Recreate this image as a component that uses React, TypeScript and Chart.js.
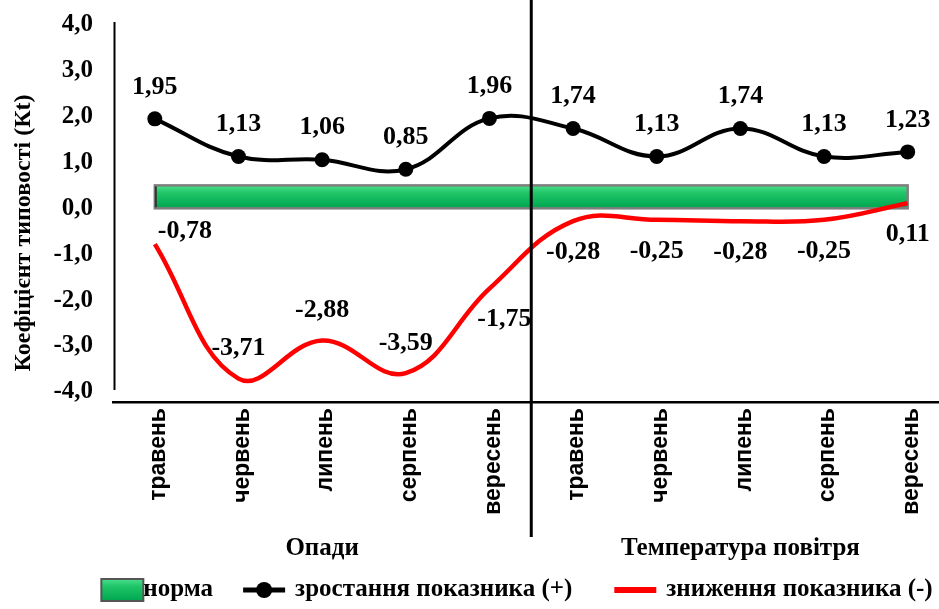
import React, { useEffect, useRef } from 'react';
import { Chart, registerables } from 'chart.js';

Chart.register(...registerables);

const categories = ['травень', 'червень', 'липень', 'серпень', 'вересень', 'травень', 'червень', 'липень', 'серпень', 'вересень'];
const groupLabels = ['Опади', 'Температура повітря'];
const groupSizes = [5, 5];
const normValues = [0.5, 0.5, 0.5, 0.5, 0.5, 0.5, 0.5, 0.5, 0.5, 0.5];
const increaseValues = [1.95, 1.13, 1.06, 0.85, 1.96, 1.74, 1.13, 1.74, 1.13, 1.23];
const decreaseValues = [-0.78, -3.71, -2.88, -3.59, -1.75, -0.28, -0.25, -0.28, -0.25, 0.11];
const yTickValues = [-4, -3, -2, -1, 0, 1, 2, 3, 4];
const seriesNames = ['норма', 'зростання показника (+)', 'зниження показника (-)'];
const yTitle = 'Коефіцієнт типовості (Кt)';
const decreaseLabelSide = ['right', 'above', 'above', 'above', 'belowRight', 'below', 'below', 'below', 'below', 'below'];

const SERIF = '"Liberation Serif", "Times New Roman", serif';
const SANS = '"Liberation Sans", Arial, sans-serif';

const fmt = (v: number, d: number) => v.toFixed(d).replace('.', ',');

function makeGreen(ctx: CanvasRenderingContext2D, top: number, bottom: number) {
  const g = ctx.createLinearGradient(0, top, 0, bottom);
  g.addColorStop(0, '#49e08c');
  g.addColorStop(0.35, '#1ec466');
  g.addColorStop(1, '#00a64f');
  return g;
}

export default function App() {
  const ref = useRef<HTMLCanvasElement>(null);

  useEffect(() => {
    const canvas = ref.current!;

    const normFill = (c: any) => {
      const chart = c.chart;
      const ys = chart.scales && chart.scales.y;
      if (!chart.chartArea || !ys) return '#12b85a';
      return makeGreen(chart.ctx, ys.getPixelForValue(normValues[0]), ys.getPixelForValue(0));
    };

    const plugin = {
      id: 'customDecor',
      afterDatasetDraw(chart: any, args: any) {
        if (args.index !== 2) return;
        const ctx = chart.ctx;
        const meta = chart.getDatasetMeta(2);
        const ys = chart.scales.y;
        const x0 = meta.data[0].x;
        const x1 = meta.data[meta.data.length - 1].x;
        const yTop = ys.getPixelForValue(normValues[0]);
        const yBot = ys.getPixelForValue(0);
        ctx.save();
        ctx.strokeStyle = '#7f7f7f';
        ctx.lineWidth = 2.5;
        ctx.strokeRect(x0, yTop, x1 - x0, yBot - yTop);
        ctx.strokeStyle = '#333';
        ctx.lineWidth = 2;
        ctx.beginPath();
        ctx.moveTo(x0 + 1, yTop + 1);
        ctx.lineTo(x0 + 1, yBot - 1);
        ctx.stroke();
        ctx.restore();
      },
      afterDatasetsDraw(chart: any) {
        const ctx = chart.ctx;
        ctx.save();
        ctx.fillStyle = '#000';
        ctx.font = `bold 26px ${SERIF}`;
        ctx.textBaseline = 'middle';
        const incMeta = chart.getDatasetMeta(0);
        incMeta.data.forEach((p: any, i: number) => {
          ctx.textAlign = 'center';
          ctx.fillText(fmt(increaseValues[i], 2), p.x, p.y - 32);
        });
        const decMeta = chart.getDatasetMeta(1);
        decMeta.data.forEach((p: any, i: number) => {
          const side = decreaseLabelSide[i];
          const t = fmt(decreaseValues[i], 2);
          if (side === 'right') {
            ctx.textAlign = 'left';
            ctx.fillText(t, p.x + 3, p.y - 13);
          } else if (side === 'above') {
            ctx.textAlign = 'center';
            ctx.fillText(t, p.x, p.y - 30);
          } else if (side === 'belowRight') {
            ctx.textAlign = 'center';
            ctx.fillText(t, p.x + 15, p.y + 31);
          } else {
            ctx.textAlign = 'center';
            ctx.fillText(t, p.x, p.y + 31);
          }
        });
        ctx.restore();
      },
      afterDraw(chart: any) {
        const ctx = chart.ctx;
        const xs = chart.scales.x;
        const ys = chart.scales.y;
        const ca = chart.chartArea;
        ctx.save();
        // y axis line
        ctx.strokeStyle = '#000';
        ctx.lineWidth = 2;
        ctx.beginPath();
        ctx.moveTo(ca.left + 1.5, ca.top);
        ctx.lineTo(ca.left + 1.5, ys.getPixelForValue(yTickValues[0]) - 2);
        ctx.stroke();
        // divider between groups
        const divX = (xs.getPixelForValue(groupSizes[0] - 1) + xs.getPixelForValue(groupSizes[0])) / 2;
        ctx.lineWidth = 3;
        ctx.beginPath();
        ctx.moveTo(divX, 0);
        ctx.lineTo(divX, 537);
        ctx.stroke();
        // group labels
        ctx.fillStyle = '#000';
        ctx.font = `bold 25px ${SERIF}`;
        ctx.textAlign = 'center';
        ctx.textBaseline = 'middle';
        let start = 0;
        groupLabels.forEach((g, gi) => {
          const end = start + groupSizes[gi] - 1;
          const cx = (xs.getPixelForValue(start) + xs.getPixelForValue(end)) / 2;
          ctx.fillText(g, cx, 549);
          start = end + 1;
        });
        // y title
        ctx.save();
        ctx.translate(24, 233);
        ctx.rotate(-Math.PI / 2);
        ctx.font = `bold 24px ${SERIF}`;
        ctx.fillText(yTitle, 0, 0);
        ctx.restore();
        // legend
        ctx.font = `bold 25px ${SERIF}`;
        ctx.textAlign = 'left';
        const ly = 590;
        const symW = 42;
        const w0 = symW + ctx.measureText(seriesNames[0]).width;
        const w1 = symW + 10 + ctx.measureText(seriesNames[1]).width;
        const w2 = symW + 10 + ctx.measureText(seriesNames[2]).width;
        const gapA = 30;
        const gapB = 42;
        const total = w0 + w1 + w2 + gapA + gapB;
        let lx = 517 - total / 2;
        // norm symbol
        ctx.fillStyle = makeGreen(ctx, ly - 11, ly + 11);
        ctx.fillRect(lx, ly - 11, symW, 22);
        ctx.strokeStyle = '#555';
        ctx.lineWidth = 2;
        ctx.strokeRect(lx, ly - 11, symW, 22);
        ctx.fillStyle = '#000';
        ctx.fillText(seriesNames[0], lx + symW, ly);
        lx += w0 + gapA;
        // increase symbol
        ctx.strokeStyle = '#000';
        ctx.lineWidth = 5;
        ctx.beginPath();
        ctx.moveTo(lx, ly);
        ctx.lineTo(lx + symW, ly);
        ctx.stroke();
        ctx.beginPath();
        ctx.arc(lx + symW / 2, ly, 8, 0, Math.PI * 2);
        ctx.fill();
        ctx.fillText(seriesNames[1], lx + symW + 10, ly);
        lx += w1 + gapB;
        // decrease symbol
        ctx.strokeStyle = '#ff0000';
        ctx.lineWidth = 6;
        ctx.beginPath();
        ctx.moveTo(lx, ly);
        ctx.lineTo(lx + symW, ly);
        ctx.stroke();
        ctx.fillText(seriesNames[2], lx + symW + 10, ly);
        ctx.restore();
      },
    };

    const chart = new Chart(canvas, {
      type: 'line',
      data: {
        labels: categories,
        datasets: [
          {
            label: seriesNames[1],
            data: increaseValues,
            borderColor: '#000',
            backgroundColor: '#000',
            borderWidth: 4,
            pointRadius: 7.5,
            pointBorderWidth: 0,
            pointBackgroundColor: '#000',
            tension: 0.4,
            fill: false,
            order: 1,
          },
          {
            label: seriesNames[2],
            data: decreaseValues,
            borderColor: '#ff0000',
            backgroundColor: '#ff0000',
            borderWidth: 4.5,
            pointRadius: 0,
            tension: 0.4,
            fill: false,
            order: 2,
          },
          {
            label: seriesNames[0],
            data: normValues,
            borderColor: 'rgba(0,0,0,0)',
            borderWidth: 1,
            backgroundColor: normFill,
            pointRadius: 0,
            tension: 0,
            fill: 'origin',
            order: 3,
          },
        ],
      },
      options: {
        responsive: false,
        animation: false,
        events: [],
        layout: { padding: { top: 22, left: 0, right: 0, bottom: 0 } },
        plugins: {
          legend: { display: false },
          tooltip: { enabled: false },
          title: { display: false },
        },
        scales: {
          x: {
            type: 'category',
            offset: true,
            grid: { display: true, drawOnChartArea: false, drawTicks: false },
            border: { display: true, color: '#000', width: 2.5 },
            ticks: {
              color: '#000',
              font: { family: SANS, size: 23, weight: 'bold' },
              minRotation: 90,
              maxRotation: 90,
              autoSkip: false,
              padding: 6,
              labelOffset: 4,
            },
            afterFit: (s: any) => {
              s.height = 207;
              s.paddingLeft = 0;
              s.paddingRight = 0;
            },
          },
          y: {
            min: -4.22,
            max: 4.06,
            afterBuildTicks: (s: any) => {
              s.ticks = yTickValues.map((v) => ({ value: v }));
            },
            grid: { display: true, drawOnChartArea: false, drawTicks: false },
            border: { display: false },
            ticks: {
              color: '#000',
              font: { family: SERIF, size: 25, weight: 'bold' },
              padding: 20,
              callback: (v: any) => fmt(Number(v), 1),
            },
            afterFit: (s: any) => {
              s.width = 113;
              s.paddingTop = 0;
              s.paddingBottom = 0;
            },
          },
        },
      },
      plugins: [plugin],
    } as any);

    return () => chart.destroy();
  }, []);

  return (
    <div style={{ position: 'fixed', left: 0, top: 0, width: 939, height: 609, overflow: 'hidden', background: '#fff' }}>
      <canvas ref={ref} width={957} height={609} style={{ width: 957, height: 609, display: 'block' }} />
    </div>
  );
}
